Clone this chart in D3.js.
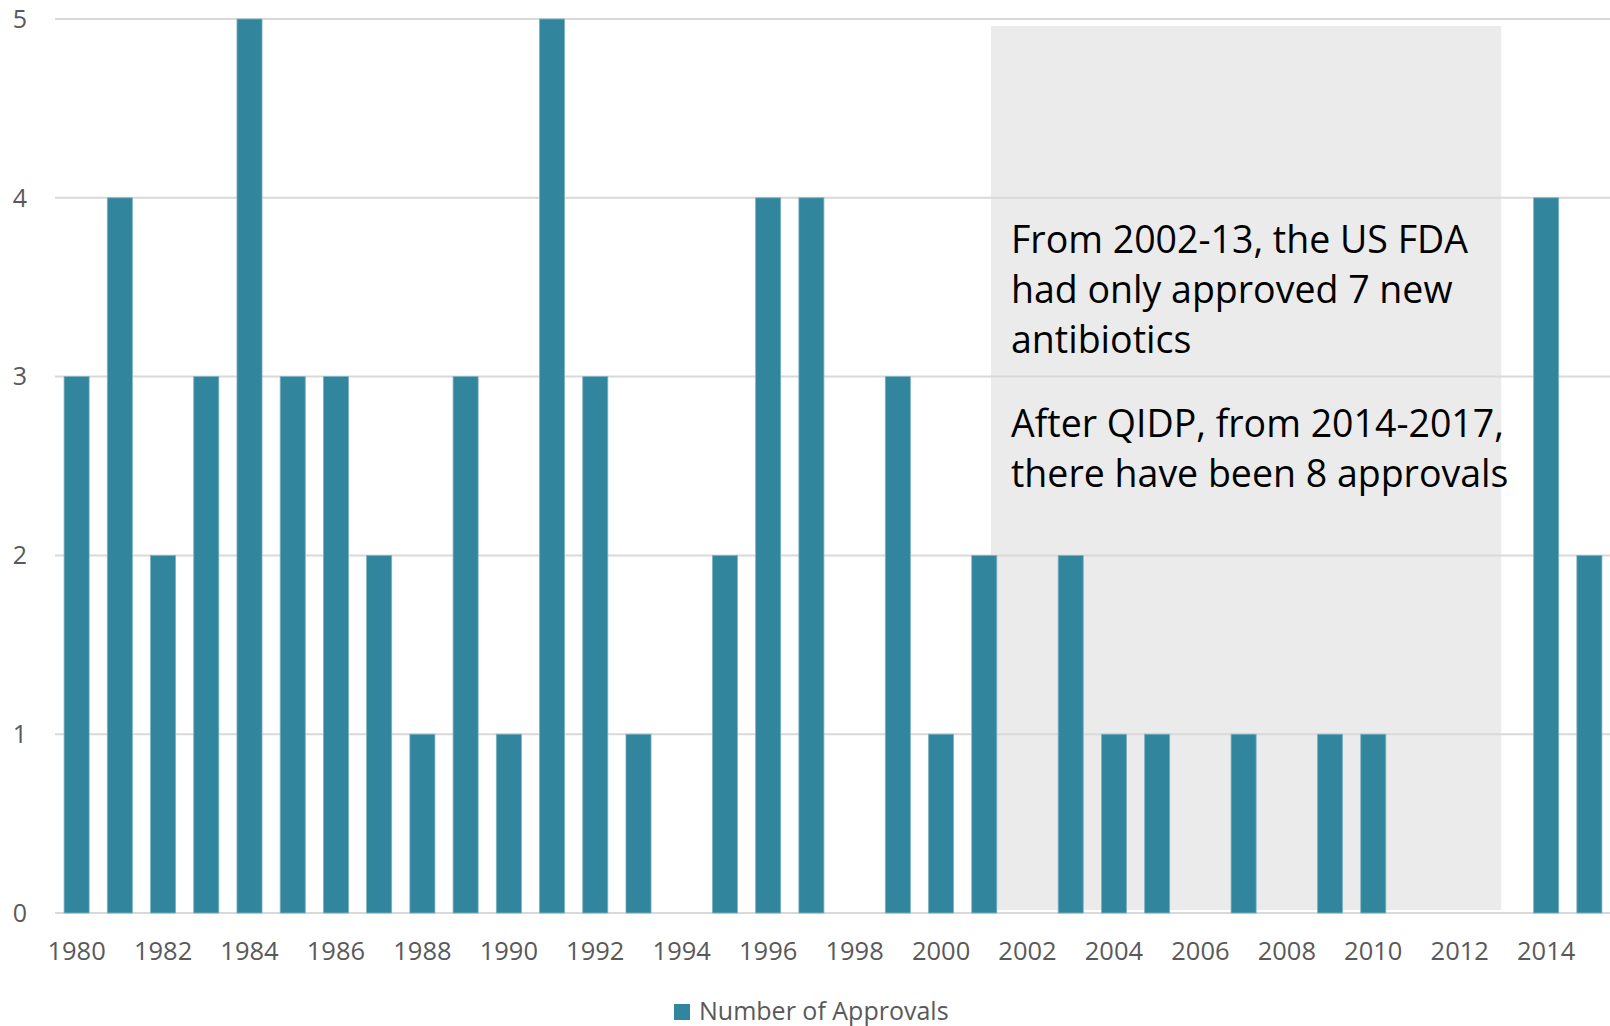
<!DOCTYPE html>
<html>
<head>
<meta charset="utf-8">
<script src="https://cdn.jsdelivr.net/npm/d3@7"></script>
<style>
  body { margin: 0; background: #fff; }
  svg { display: block; font-family: "Open Sans", sans-serif; }
</style>
</head>
<body>
<script>
const width = 1610, height = 1026;

// data
const years = d3.range(1980, 2016).map(String);
const approvals = [3, 4, 2, 3, 5, 3, 3, 2, 1, 3, 1, 5, 3, 1, 0, 2, 4, 4, 0, 3,
                   1, 2, 0, 2, 1, 1, 0, 1, 0, 1, 1, 0, 0, 0, 4, 2];
const yTicks = [0, 1, 2, 3, 4, 5];
const xTickLabels = years.filter((d, i) => i % 2 === 0);
const seriesName = "Number of Approvals";
const noteLines1 = ["From 2002-13, the US FDA", "had only approved 7 new", "antibiotics"];
const noteLines2 = ["After QIDP, from 2014-2017,", "there have been 8 approvals"];

const barColor = "#31859c";
const gridColor = "#d9d9d9";
const labelColor = "#595959";

const svg = d3.select("body").append("svg").attr("width", width).attr("height", height);

const x = d3.scaleBand().domain(years).range([55, 1611]).paddingInner(0.42).paddingOuter(0.21);
const y = d3.scaleLinear().domain([0, 5]).range([913, 19]);

// shaded note box behind the bars (2001 - 2013)
const boxX0 = x("2001") + x.bandwidth() * 0.77;
const boxX1 = x("2013") + x.bandwidth() * 0.43;
svg.append("rect")
    .attr("x", boxX0)
    .attr("y", y(5) + 7)
    .attr("width", boxX1 - boxX0)
    .attr("height", y(0) - 3 - (y(5) + 7))
    .attr("fill", "#ebebeb");

// gridlines
svg.append("g")
    .selectAll("line")
    .data(yTicks)
    .enter().append("line")
    .attr("x1", 55)
    .attr("x2", width)
    .attr("y1", d => y(d))
    .attr("y2", d => y(d))
    .attr("stroke", gridColor)
    .attr("stroke-width", 2);

// y labels
svg.append("g")
    .selectAll("text")
    .data(yTicks)
    .enter().append("text")
    .attr("x", 27)
    .attr("y", d => y(d))
    .attr("dy", "0.35em")
    .attr("text-anchor", "end")
    .attr("font-size", 25)
    .attr("fill", labelColor)
    .text(d => d);

// bars
svg.append("g")
    .selectAll("rect")
    .data(years.map((d, i) => ({ year: d, value: approvals[i] })).filter(d => d.value > 0))
    .enter().append("rect")
    .attr("x", d => x(d.year))
    .attr("y", d => y(d.value))
    .attr("width", x.bandwidth())
    .attr("height", d => y(0) - y(d.value))
    .attr("fill", barColor)
    .attr("stroke", "#7fb2c2")
    .attr("stroke-width", 0.8);

// x labels
svg.append("g")
    .selectAll("text")
    .data(xTickLabels)
    .enter().append("text")
    .attr("x", d => x(d) + x.bandwidth() / 2)
    .attr("y", 960)
    .attr("text-anchor", "middle")
    .attr("font-size", 25.5)
    .attr("fill", labelColor)
    .text(d => d);

// annotation text
const note = svg.append("g").attr("font-size", 37.5).attr("fill", "#000");
note.selectAll("text.p1")
    .data(noteLines1)
    .enter().append("text")
    .attr("class", "p1")
    .attr("x", 1011)
    .attr("y", (d, i) => 253 + i * 50)
    .text(d => d);
note.selectAll("text.p2")
    .data(noteLines2)
    .enter().append("text")
    .attr("class", "p2")
    .attr("x", 1011)
    .attr("y", (d, i) => 437 + i * 50)
    .text(d => d);

// legend
const legend = svg.append("g").attr("transform", "translate(674, 1004)");
legend.append("rect").attr("width", 16).attr("height", 16).attr("fill", barColor);
legend.append("text")
    .attr("x", 25)
    .attr("y", 16)
    .attr("font-size", 25)
    .attr("fill", labelColor)
    .text(seriesName);
</script>
</body>
</html>
